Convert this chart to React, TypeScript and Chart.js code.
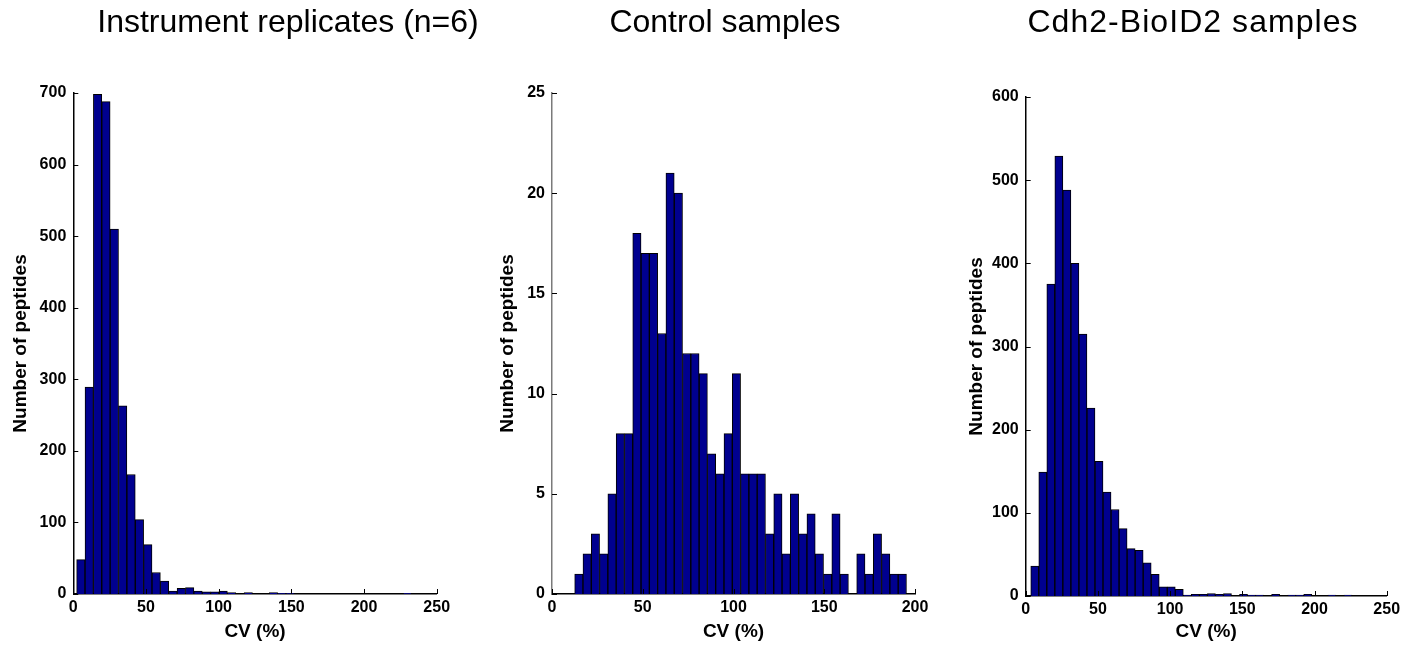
import React, { useEffect, useRef } from 'react';
import { Chart, registerables } from 'chart.js';

Chart.register(...registerables);

// ---------- DATA ----------
const panelTitles = ['Instrument replicates (n=6)', 'Control samples', 'Cdh2-BioID2 samples'];
const xAxisTitle = 'CV (%)';
const yAxisTitle = 'Number of peptides';

// histogram counts (40 bins each)
const instrumentCounts = [
  48, 289, 698, 688, 510, 263, 167, 104, 69, 30,
  18, 4, 8, 9, 4, 3, 3, 4, 2, 0,
  2, 0, 0, 2, 1, 1, 0, 0, 0, 0,
  0, 0, 0, 0, 0, 0, 0, 0, 0, 1,
];
const controlCounts = [
  1, 2, 3, 2, 5, 8, 8, 18, 17, 17,
  13, 21, 20, 12, 12, 11, 7, 6, 8, 11,
  6, 6, 6, 3, 5, 2, 5, 3, 4, 2,
  1, 4, 1, 0, 2, 1, 3, 2, 1, 1,
];
const cdh2Counts = [
  36, 149, 375, 529, 488, 400, 315, 226, 162, 125,
  104, 81, 57, 55, 40, 26, 11, 11, 8, 1,
  2, 2, 3, 2, 3, 0, 2, 1, 1, 0,
  2, 0, 1, 1, 2, 0, 0, 1, 0, 1,
];

// bin layout (CV %, first bin left edge and bin width)
const instrumentBinStart = 2.3;
const instrumentBinWidth = 5.76;
const controlBinStart = 12.5;
const controlBinWidth = 4.57;
const cdh2BinStart = 3.5;
const cdh2BinWidth = 5.56;

// tick labels
const instrumentXTicks = [0, 50, 100, 150, 200, 250];
const instrumentYTicks = [0, 100, 200, 300, 400, 500, 600, 700];
const controlXTicks = [0, 50, 100, 150, 200];
const controlYTicks = [0, 5, 10, 15, 20, 25];
const cdh2XTicks = [0, 50, 100, 150, 200, 250];
const cdh2YTicks = [0, 100, 200, 300, 400, 500, 600];

// ---------- STYLE / LAYOUT ----------
const FONT = "'Liberation Sans', Arial, Helvetica, sans-serif";
const BAR_FILL = '#00008F';

type PanelSpec = {
  counts: number[];
  binStart: number;
  binWidth: number;
  xTicks: number[];
  yTicks: number[];
  left: number;
  width: number;
  padTop: number;
  padRight: number;
  yWidth: number;
  yTitlePad: number;
  xHeight: number;
  yBorder: string;
};

const panels: PanelSpec[] = [
  {
    counts: instrumentCounts, binStart: instrumentBinStart, binWidth: instrumentBinWidth,
    xTicks: instrumentXTicks, yTicks: instrumentYTicks,
    left: 0, width: 460, padTop: 93, padRight: 23.3, yWidth: 73.3, yTitlePad: 9.4, xHeight: 52, yBorder: '#000',
  },
  {
    counts: controlCounts, binStart: controlBinStart, binWidth: controlBinWidth,
    xTicks: controlXTicks, yTicks: controlYTicks,
    left: 490, width: 450, padTop: 93, padRight: 25, yWidth: 62, yTitlePad: 6.6, xHeight: 52, yBorder: '#7a7a7a',
  },
  {
    counts: cdh2Counts, binStart: cdh2BinStart, binWidth: cdh2BinWidth,
    xTicks: cdh2XTicks, yTicks: cdh2YTicks,
    left: 950, width: 460, padTop: 97, padRight: 23.3, yWidth: 75.7, yTitlePad: 15.6, xHeight: 50, yBorder: '#000',
  },
];

const titleCenters = [288, 725, 1193];
const titleSpacing = [0, 0, 1.05];

const innerTicks = {
  id: 'innerTicks',
  afterDatasetsDraw(chart: any) {
    const { ctx, chartArea, scales } = chart;
    const xs = scales.x;
    const ys = scales.y;
    ctx.save();
    ctx.strokeStyle = '#000';
    ctx.lineWidth = 1;
    ctx.beginPath();
    xs.ticks.forEach((t: any) => {
      const px = Math.round(xs.getPixelForValue(t.value)) + 0.5;
      ctx.moveTo(px, chartArea.bottom);
      ctx.lineTo(px, chartArea.bottom - 5);
    });
    ys.ticks.forEach((t: any) => {
      const py = Math.round(ys.getPixelForValue(t.value)) + 0.5;
      ctx.moveTo(chartArea.left, py);
      ctx.lineTo(chartArea.left + 5, py);
    });
    ctx.stroke();
    ctx.restore();
  },
};

function Panel({ spec }: { spec: PanelSpec }) {
  const ref = useRef<HTMLCanvasElement | null>(null);
  useEffect(() => {
    if (!ref.current) return;
    const data = spec.counts.map((c, i) => ({ x: spec.binStart + spec.binWidth * (i + 0.5), y: c }));
    const xMax = spec.xTicks[spec.xTicks.length - 1];
    const yMax = spec.yTicks[spec.yTicks.length - 1];
    const chart = new Chart(ref.current, {
      type: 'bar',
      data: {
        datasets: [
          {
            data: data as any,
            backgroundColor: BAR_FILL,
            borderColor: '#000',
            borderWidth: 1,
            barPercentage: 1,
            categoryPercentage: 1,
          },
        ],
      },
      options: {
        animation: false,
        responsive: false,
        devicePixelRatio: 1,
        layout: { padding: { left: 0, right: spec.padRight, top: spec.padTop, bottom: 0 } },
        plugins: { legend: { display: false }, tooltip: { enabled: false }, title: { display: false } },
        scales: {
          x: {
            type: 'linear',
            offset: false,
            min: 0,
            max: xMax,
            grid: { display: false, drawTicks: false },
            border: { display: true, color: '#000', width: 1.5 },
            afterBuildTicks: (s: any) => { s.ticks = spec.xTicks.map((v) => ({ value: v })); },
            afterFit: (s: any) => { s.height = spec.xHeight; },
            ticks: {
              autoSkip: false,
              maxRotation: 0,
              padding: 4,
              color: '#000',
              font: { family: FONT, size: 16, weight: 'bold' },
            },
            title: {
              display: true,
              text: xAxisTitle,
              color: '#000',
              font: { family: FONT, size: 19, weight: 'bold' },
              padding: { top: 0, bottom: 2.6 },
            },
          },
          y: {
            type: 'linear',
            min: 0,
            max: yMax,
            grid: { display: false, drawTicks: false },
            border: { display: true, color: spec.yBorder, width: 1.5 },
            afterBuildTicks: (s: any) => { s.ticks = spec.yTicks.map((v) => ({ value: v })); },
            afterFit: (s: any) => { s.width = spec.yWidth; },
            ticks: {
              autoSkip: false,
              padding: 7,
              color: '#000',
              font: { family: FONT, size: 16, weight: 'bold' },
            },
            title: {
              display: true,
              text: yAxisTitle,
              color: '#000',
              font: { family: FONT, size: 19, weight: 'bold' },
              padding: { top: spec.yTitlePad, bottom: 0 },
            },
          },
        },
      },
      plugins: [innerTicks],
    } as any);
    return () => chart.destroy();
  }, [spec]);
  return (
    <canvas
      ref={ref}
      width={spec.width}
      height={646}
      style={{ position: 'absolute', left: spec.left, top: 0, width: spec.width, height: 646 }}
    />
  );
}

export default function App() {
  return (
    <div style={{ position: 'absolute', left: 0, top: 0, width: 1416, height: 646, background: '#fff', overflow: 'hidden' }}>
      {panels.map((p, i) => (
        <Panel key={i} spec={p} />
      ))}
      {panelTitles.map((t, i) => (
        <div
          key={'t' + i}
          style={{
            position: 'absolute',
            left: titleCenters[i] - 300,
            width: 600,
            top: 4.5,
            textAlign: 'center',
            fontFamily: FONT,
            fontSize: 32,
            lineHeight: '32px',
            letterSpacing: titleSpacing[i],
            color: '#000',
            whiteSpace: 'nowrap',
          }}
        >
          {t}
        </div>
      ))}
    </div>
  );
}
